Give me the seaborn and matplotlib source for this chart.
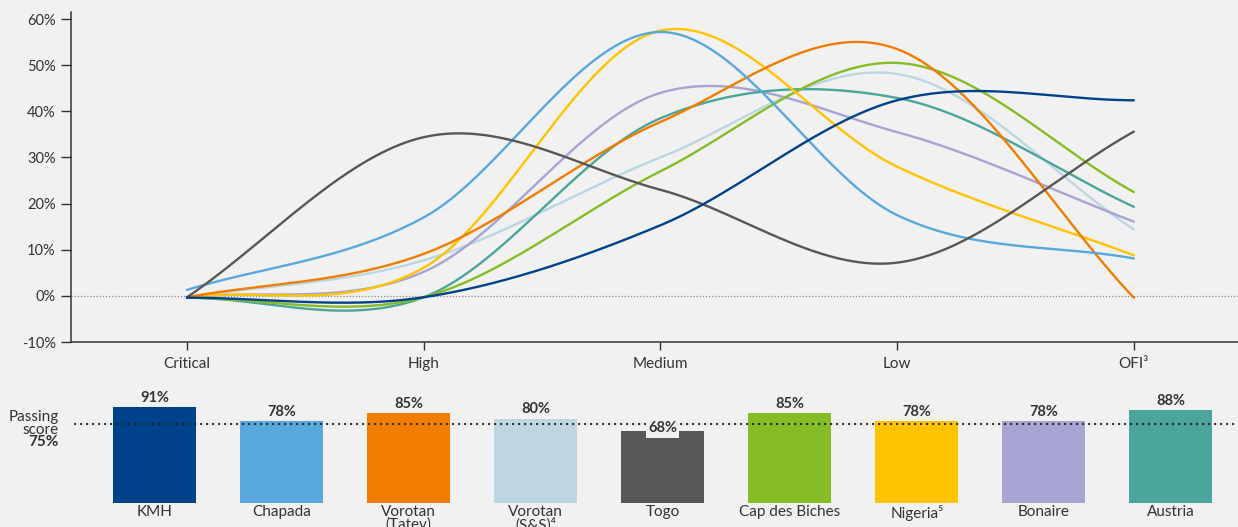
import numpy as np
import pandas as pd
import matplotlib
matplotlib.use("Agg")
import matplotlib.pyplot as plt
import seaborn as sns

# ---------------- data ----------------
severity = ["Critical", "High", "Medium", "Low", "OFI³"]

kmh = [-0.4, -0.3, 15.3, 42.4, 42.4]
chapada = [1.3, 17.0, 57.2, 17.5, 8.1]
vorotan_tatev = [-0.3, 9.1, 37.7, 53.5, -0.4]
vorotan_ss = [-0.3, 7.7, 30.0, 48.1, 14.4]
togo = [-0.3, 34.4, 23.0, 7.2, 35.6]
cap_des_biches = [-0.4, -0.3, 27.0, 50.5, 22.5]
nigeria = [-0.3, 6.1, 57.5, 28.0, 8.8]
bonaire = [-0.3, 5.2, 44.0, 35.5, 16.1]
austria = [-0.4, -0.3, 38.5, 42.9, 19.3]

sites = ["KMH", "Chapada", "Vorotan\n(Tatev)", "Vorotan\n(S&S)⁴", "Togo",
         "Cap des Biches", "Nigeria⁵", "Bonaire", "Austria"]
scores = [91, 78, 85, 80, 68, 85, 78, 78, 88]
passing_score = 75

colors = ["#00428A", "#58A8DE", "#F07D00", "#BDD6E1", "#575756",
          "#86BC25", "#FFC300", "#A7A4D3", "#4BA59A"]
series = [kmh, chapada, vorotan_tatev, vorotan_ss, togo,
          cap_des_biches, nigeria, bonaire, austria]

# ---------------- style ----------------
BG = "#f1f1f1"
TXT = "#333333"
sns.set_theme(style="white")
plt.rcParams["font.family"] = ["Lato", "DejaVu Sans"]
plt.rcParams["axes.facecolor"] = BG
plt.rcParams["figure.facecolor"] = BG


def smooth(vals, n=80):
    """Cubic Hermite curve through the points (Catmull-Rom tangents)."""
    y = np.asarray(vals, float)
    k = len(y)
    m = np.empty(k)
    m[1:-1] = (y[2:] - y[:-2]) / 2
    m[0] = y[1] - y[0]
    m[-1] = y[-1] - y[-2]
    xs, ys = [], []
    for i in range(k - 1):
        t = np.linspace(0, 1, n, endpoint=(i == k - 2))
        h00 = 2 * t**3 - 3 * t**2 + 1
        h10 = t**3 - 2 * t**2 + t
        h01 = -2 * t**3 + 3 * t**2
        h11 = t**3 - t**2
        ys.append(h00 * y[i] + h10 * m[i] + h01 * y[i + 1] + h11 * m[i + 1])
        xs.append(i + t)
    return np.concatenate(xs), np.concatenate(ys)


W, H = 1238, 527
fig = plt.figure(figsize=(W / 100, H / 100), dpi=100)

# ---------------- top line chart ----------------
ax1 = fig.add_axes([71 / W, 1 - 342 / H, 1 - 71 / W, (342 - 11.7) / H])
ax1.axhline(0, color="#8a8a8a", lw=0.9, ls=(0, (1, 1.5)), zorder=1)

order = [3, 7, 8, 5, 6, 2, 1, 4, 0]
for i in order:
    xs, ys = smooth(series[i])
    df = pd.DataFrame({"x": xs, "y": ys})
    sns.lineplot(data=df, x="x", y="y", ax=ax1, color=colors[i], lw=1.7,
                 sort=False, estimator=None, zorder=3)

ax1.set_xlim(-0.49, 4.44)
ax1.set_ylim(-10, 61.6)
ax1.set_xticks(range(len(severity)))
ax1.set_xticklabels(severity)
yt = list(range(-10, 61, 10))
ax1.set_yticks(yt)
ax1.set_yticklabels([f"{v}%" for v in yt])
ax1.set_xlabel("")
ax1.set_ylabel("")
for s in ["top", "right"]:
    ax1.spines[s].set_visible(False)
for s in ["left", "bottom"]:
    ax1.spines[s].set_color(TXT)
    ax1.spines[s].set_linewidth(1.1)
ax1.tick_params(axis="y", direction="out", length=7, width=1, color=TXT,
                labelsize=10.5, labelcolor=TXT, pad=4, left=True)
ax1.tick_params(axis="x", direction="out", length=6, width=1, color=TXT,
                labelsize=11, labelcolor=TXT, pad=5, bottom=True)

# ---------------- bottom bar chart ----------------
ax2 = fig.add_axes([0, 1 - 502.7 / H, 1, 105.2 / H])
bdf = pd.DataFrame({"site": sites, "score": scores})
sns.barplot(data=bdf, x="site", y="score", hue="site", palette=colors,
            legend=False, width=0.654, saturation=1, ax=ax2, zorder=2,
            edgecolor="none", linewidth=0)
ax2.set_xlim(-1.22, 8.53)
ax2.set_ylim(0, 100)
ax2.axhline(passing_score, xmin=75 / W, xmax=1, color="#222222", lw=1.6,
            ls=(0, (0.1, 2.6)), dash_capstyle="round", zorder=3)
for i, v in enumerate(scores):
    if v < passing_score:
        ax2.annotate(f"{v}%", xy=(i, v), xytext=(0, -3), textcoords="offset points",
                     ha="center", va="bottom", fontsize=10.5, fontweight="bold",
                     color=TXT, zorder=5,
                     bbox=dict(boxstyle="square,pad=0.15", fc=BG, ec="none"))
    else:
        ax2.annotate(f"{v}%", xy=(i, v), xytext=(0, 1.5), textcoords="offset points",
                     ha="center", va="bottom", fontsize=10.5, fontweight="bold",
                     color=TXT, zorder=5)
ax2.set_xlabel("")
ax2.set_ylabel("")
ax2.set_yticks([])
for s in ax2.spines.values():
    s.set_visible(False)
ax2.tick_params(axis="x", length=0, labelsize=11, labelcolor=TXT, pad=1.5)
for lab in ax2.get_xticklabels():
    lab.set_linespacing(0.85)

fig.text(59 / W, 1 - 417.5 / H, "Passing", ha="right", va="center",
         fontsize=11, color=TXT)
fig.text(59 / W, 1 - 429.5 / H, "score", ha="right", va="center",
         fontsize=11, color=TXT)
fig.text(59 / W, 1 - 442 / H, f"{passing_score}%", ha="right", va="center",
         fontsize=11, fontweight="bold", color=TXT)

fig.savefig("out.png", dpi=100, facecolor=BG)
